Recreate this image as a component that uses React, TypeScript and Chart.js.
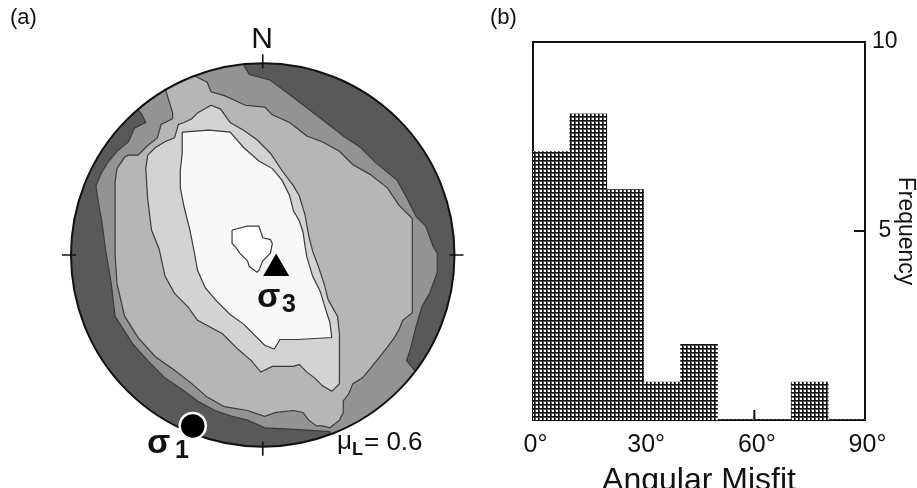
import React, { useEffect, useRef } from "react";
import { Chart, registerables } from "chart.js";

Chart.register(...registerables);

const FONT = "'Liberation Sans', Arial, Helvetica, sans-serif";
const INK = "#111111";

// ---------------- (b) histogram data ----------------
const binCenters = [5, 15, 25, 35, 45, 55, 65, 75, 85];
const frequency = [7.1, 8.1, 6.1, 1, 2, 0, 0, 1, 0];
const misfitTicks = [0, 30, 60, 90];
const freqTicks = [0, 5, 10];
const innerTicksX = [30, 60];
const innerTicksY = [5];

// ---------------- (a) stereonet data (net radius = 100) ----------------
type P = [number, number];
const ring1: P[] = [
  [-10, 99], [-7, 94], [4, 91], [16, 82], [33, 69], [42, 62], [51, 56], [59, 48], [70, 39], [75, 30],
  [80, 20], [85, 15], [89, 4], [91, 1], [91, -9], [87, -20], [83, -27], [80, -37], [77, -49], [75, -55],
  [80, -61], [97, -70], [82, -102], [37, -108], [35, -92], [19, -91], [1, -90], [-8, -86], [-16, -84],
  [-25, -81], [-34, -76], [-42, -70], [-51, -64], [-60, -55], [-68, -46], [-77, -32], [-79, -15], [-82, 3],
  [-84, 18], [-86, 29], [-87, 36], [-84, 43], [-81, 48], [-76, 54], [-70, 59], [-67, 66], [-61, 69],
  [-63, 73], [-69, 81], [-54, 102], [-12, 107], [-10, 99],
];
const ring2: P[] = [
  [-77, 0], [-77, 38], [-76, 45], [-72, 51], [-70, 52], [-65, 52], [-60, 57], [-55, 61], [-53, 68],
  [-47, 71], [-47, 74], [-51, 87], [-54, 96], [-35, 102], [-37, 94], [-29, 90], [-27, 85], [-20, 83],
  [-9, 78], [1, 77], [5, 73], [14, 69], [23, 62], [31, 59], [40, 54], [47, 47], [56, 42], [65, 35],
  [71, 26], [78, 19], [78, 3], [78, -13], [78, -30], [73, -34], [71, -39], [68, -44], [65, -48], [61, -53],
  [57, -58], [52, -64], [47, -67], [45, -72], [42, -76], [42, -82], [40, -86], [35, -90], [31, -89],
  [28, -89], [24, -86], [21, -82], [16, -81], [7, -82], [1, -84], [-8, -81], [-20, -79], [-29, -74],
  [-37, -67], [-46, -60], [-56, -53], [-65, -43], [-72, -32], [-76, -15], [-77, 0],
];
const ring3: P[] = [
  [-27, 78], [-22, 76], [-17, 69], [-10, 65], [-3, 60], [4, 53], [10, 44], [16, 36], [19, 31], [22, 21],
  [24, 10], [26, 2], [29, -6], [32, -15], [34, -23], [39, -32], [40, -41], [40, -67], [36, -71], [31, -68],
  [27, -64], [23, -61], [19, -57], [16, -58], [5, -58], [-1, -61], [-6, -55], [-13, -49], [-21, -41],
  [-34, -34], [-39, -27], [-46, -20], [-51, -11], [-54, 3], [-58, 13], [-60, 29], [-61, 45], [-60, 52],
  [-56, 56], [-51, 59], [-46, 61], [-44, 68], [-41, 69], [-37, 71], [-34, 74], [-27, 78],
];
const ringW: P[] = [
  [-42, 64], [-28, 65], [-17, 64], [-10, 56], [-2, 49], [5, 45], [10, 39], [14, 31], [16, 23], [19, 18],
  [21, 12], [22, 5], [23, -1], [26, -11], [30, -19], [33, -29], [35, -35], [36, -43], [18, -44], [9, -44],
  [6, -49], [1, -47], [-4, -42], [-10, -36], [-17, -31], [-24, -24], [-30, -17], [-34, -8], [-36, 3],
  [-38, 13], [-41, 25], [-43, 35], [-43, 44], [-42, 53], [-42, 64],
];
const ring5: P[] = [
  [-16, 13], [-8, 15], [-2, 15], [0, 9], [4, 8], [5, 6], [4, 1], [0, -3], [-2, -8], [-3, -9], [-7, -6],
  [-8, -3], [-12, 1], [-14, 4], [-16, 6], [-16, 13],
];
const sigma1: P[] = [[-36.5, -89]];
const sigma3: P[] = [[7, -7]];
const rimShade = "#595959";
const bandColors = ["#939393", "#b6b6b6", "#d3d3d3", "#f8f8f8", "#ffffff"];
const rimTicksDeg = [0, 90, 180, 270];

function netGeometry(chart: any) {
  const x = chart.scales.x;
  const y = chart.scales.y;
  const cx = x.getPixelForValue(0);
  const cy = y.getPixelForValue(0);
  const r = x.getPixelForValue(100) - cx;
  return { cx, cy, r };
}

function drawRim(chart: any) {
  const { ctx } = chart;
  const { cx, cy, r } = netGeometry(chart);
  ctx.save();
  ctx.strokeStyle = INK;
  ctx.lineWidth = 2;
  ctx.beginPath();
  ctx.arc(cx, cy, r, 0, Math.PI * 2);
  ctx.stroke();
  ctx.lineWidth = 1.6;
  ctx.beginPath();
  for (const d of rimTicksDeg) {
    const a = (d * Math.PI) / 180;
    const sx = Math.sin(a);
    const sy = -Math.cos(a);
    ctx.moveTo(cx + sx * (r - 5), cy + sy * (r - 5));
    ctx.lineTo(cx + sx * (r + 9), cy + sy * (r + 9));
  }
  ctx.stroke();
  ctx.restore();
}

const netPlugin = {
  id: "stereonet",
  beforeDatasetsDraw(chart: any) {
    const { ctx } = chart;
    const { cx, cy, r } = netGeometry(chart);
    ctx.save();
    ctx.beginPath();
    ctx.arc(cx, cy, r, 0, Math.PI * 2);
    ctx.fillStyle = rimShade;
    ctx.fill();
    ctx.clip();
    chart.$netClip = true;
  },
  beforeDatasetDraw(chart: any, args: any) {
    if (chart.$netClip && (args.meta.order || 0) <= 0) {
      chart.ctx.restore();
      chart.$netClip = false;
      drawRim(chart);
    }
  },
  afterDatasetsDraw(chart: any) {
    if (chart.$netClip) {
      chart.ctx.restore();
      chart.$netClip = false;
      drawRim(chart);
    }
  },
};

const innerTickPlugin = {
  id: "innerTicks",
  beforeDatasetsDraw(chart: any) {
    const { ctx, chartArea: a } = chart;
    const x = chart.scales.x;
    const y = chart.scales.y;
    ctx.save();
    ctx.strokeStyle = INK;
    ctx.lineWidth = 2;
    ctx.beginPath();
    innerTicksX.forEach((v) => {
      const px = x.getPixelForValue(v);
      ctx.moveTo(px, a.bottom);
      ctx.lineTo(px, a.bottom - 10);
    });
    innerTicksY.forEach((v) => {
      const py = y.getPixelForValue(v);
      ctx.moveTo(a.right, py);
      ctx.lineTo(a.right - 11, py);
    });
    ctx.stroke();
    ctx.restore();
  },
};

function makeHatch(): CanvasPattern | string {
  const c = document.createElement("canvas");
  c.width = 4;
  c.height = 4;
  const g = c.getContext("2d");
  if (!g) return "#555";
  g.fillStyle = "#ffffff";
  g.fillRect(0, 0, 4, 4);
  g.fillStyle = "#5a5a5a";
  g.fillRect(0, 1, 4, 1);
  g.fillRect(1, 0, 1, 4);
  g.fillStyle = "#0d0d0d";
  g.fillRect(0, 0, 4, 1);
  g.fillRect(0, 0, 1, 4);
  const p = g.createPattern(c, "repeat");
  return p || "#555";
}

function Txt(props: { left: number; top: number; size: number; bold?: boolean; center?: boolean; spacing?: number; children: any }) {
  return (
    <span
      style={{
        position: "absolute",
        left: props.left,
        top: props.top,
        fontSize: props.size,
        lineHeight: 1,
        fontWeight: props.bold ? "bold" : "normal",
        whiteSpace: "pre",
        letterSpacing: props.spacing || 0,
        transform: props.center ? "translateX(-50%)" : undefined,
      }}
    >
      {props.children}
    </span>
  );
}

export default function App() {
  const netRef = useRef<HTMLCanvasElement>(null);
  const histRef = useRef<HTMLCanvasElement>(null);

  useEffect(() => {
    document.body.style.margin = "0";
    const rings = [ring1, ring2, ring3, ringW, ring5];
    const ringSets = rings.map((r, i) => ({
      data: r.map(([x, y]) => ({ x, y })),
      showLine: true,
      fill: "shape",
      backgroundColor: bandColors[i],
      borderColor: "#3a3a3a",
      borderWidth: 1.2,
      pointRadius: 0,
      tension: 0,
      order: 10 - i,
    }));
    const net = new Chart(netRef.current as HTMLCanvasElement, {
      type: "scatter",
      data: {
        datasets: [
          ...ringSets,
          {
            data: sigma1.map(([x, y]) => ({ x, y })),
            pointStyle: "circle",
            pointRadius: 13,
            backgroundColor: "#000000",
            borderColor: "#ffffff",
            borderWidth: 2.5,
            order: 0,
            clip: false,
          },
          {
            data: sigma3.map(([x, y]) => ({ x, y })),
            pointStyle: "triangle",
            pointRadius: 15,
            backgroundColor: "#000000",
            borderColor: "#000000",
            borderWidth: 0,
            order: -1,
            clip: false,
          },
        ] as any,
      },
      options: {
        animation: false,
        responsive: false,
        devicePixelRatio: 1,
        events: [],
        layout: { padding: { left: 71, right: 15, top: 63, bottom: 41 } },
        plugins: { legend: { display: false }, tooltip: { enabled: false } },
        scales: {
          x: { type: "linear", min: -100, max: 100, display: false },
          y: { type: "linear", min: -100, max: 100, display: false },
        },
      } as any,
      plugins: [netPlugin as any],
    });

    const frame = { display: true, color: INK, width: 2 };
    const hist = new Chart(histRef.current as HTMLCanvasElement, {
      type: "bar",
      data: {
        datasets: [
          {
            data: binCenters.map((c, i) => ({ x: c, y: frequency[i] })),
            backgroundColor: makeHatch() as any,
            borderWidth: 0,
            barPercentage: 1,
            categoryPercentage: 1,
          },
        ] as any,
      },
      options: {
        animation: false,
        responsive: false,
        devicePixelRatio: 1,
        events: [],
        layout: { padding: 0 },
        plugins: { legend: { display: false }, tooltip: { enabled: false } },
        scales: {
          x: {
            type: "linear",
            position: "bottom",
            min: 0,
            max: 90,
            offset: false,
            afterBuildTicks: (s: any) => {
              s.ticks = misfitTicks.map((v) => ({ value: v }));
            },
            ticks: {
              callback: (v: any) => "\u2009" + v + "°",
              font: { family: FONT, size: 25 },
              color: INK,
              padding: 10,
              maxRotation: 0,
              autoSkip: false,
            },
            grid: { display: false, drawTicks: false, offset: false },
            border: frame,
            title: {
              display: true,
              text: "Angular Misfit",
              color: INK,
              font: { family: FONT, size: 32, lineHeight: 1 },
              padding: { top: 0, bottom: -9 },
            },
            afterFit: (s: any) => {
              s.height = 68;
            },
          },
          xTop: {
            type: "linear",
            position: "top",
            min: 0,
            max: 90,
            offset: false,
            ticks: { display: false },
            grid: { display: false, drawTicks: false },
            border: frame,
            afterFit: (s: any) => {
              s.height = 42;
            },
          },
          y: {
            type: "linear",
            position: "right",
            min: 0,
            max: 10,
            afterBuildTicks: (s: any) => {
              s.ticks = freqTicks.map((v) => ({ value: v }));
            },
            ticks: {
              callback: (v: any) => (v === 0 ? "" : String(v)),
              font: { family: FONT, size: 23 },
              color: INK,
              padding: 7,
              crossAlign: "center",
            },
            grid: { display: false, drawTicks: false },
            border: frame,
            title: {
              display: true,
              text: "Frequency",
              color: INK,
              font: { family: FONT, size: 23, lineHeight: 1 },
              padding: 0,
            },
            afterFit: (s: any) => {
              s.width = 52;
            },
          },
          yLeft: {
            type: "linear",
            position: "left",
            min: 0,
            max: 10,
            ticks: { display: false },
            grid: { display: false, drawTicks: false },
            border: frame,
            afterFit: (s: any) => {
              s.width = 63;
            },
          },
        },
      } as any,
      plugins: [innerTickPlugin as any],
    });

    return () => {
      net.destroy();
      hist.destroy();
    };
  }, []);

  return (
    <div
      style={{
        position: "fixed",
        left: 0,
        top: 0,
        width: 917,
        height: 488,
        overflow: "hidden",
        background: "#ffffff",
        fontFamily: FONT,
        color: INK,
      }}
    >
      <canvas ref={netRef} width={470} height={488} style={{ position: "absolute", left: 0, top: 0, width: 470, height: 488 }} />
      <canvas ref={histRef} width={447} height={488} style={{ position: "absolute", left: 470, top: 0, width: 447, height: 488 }} />
      <Txt left={10} top={6} size={22}>(a)</Txt>
      <Txt left={490} top={6} size={22}>(b)</Txt>
      <Txt left={262} top={23} size={30} center>N</Txt>
      <Txt left={257} top={278} size={34} bold>σ</Txt>
      <Txt left={282} top={291} size={25} bold>3</Txt>
      <Txt left={147} top={424} size={34} bold>σ</Txt>
      <Txt left={175} top={437} size={25} bold>1</Txt>
      <Txt left={337} top={427} size={26}>μ</Txt>
      <Txt left={352} top={440} size={18} bold>L</Txt>
      <Txt left={364} top={428} size={26}>{"= 0.6"}</Txt>
    </div>
  );
}
